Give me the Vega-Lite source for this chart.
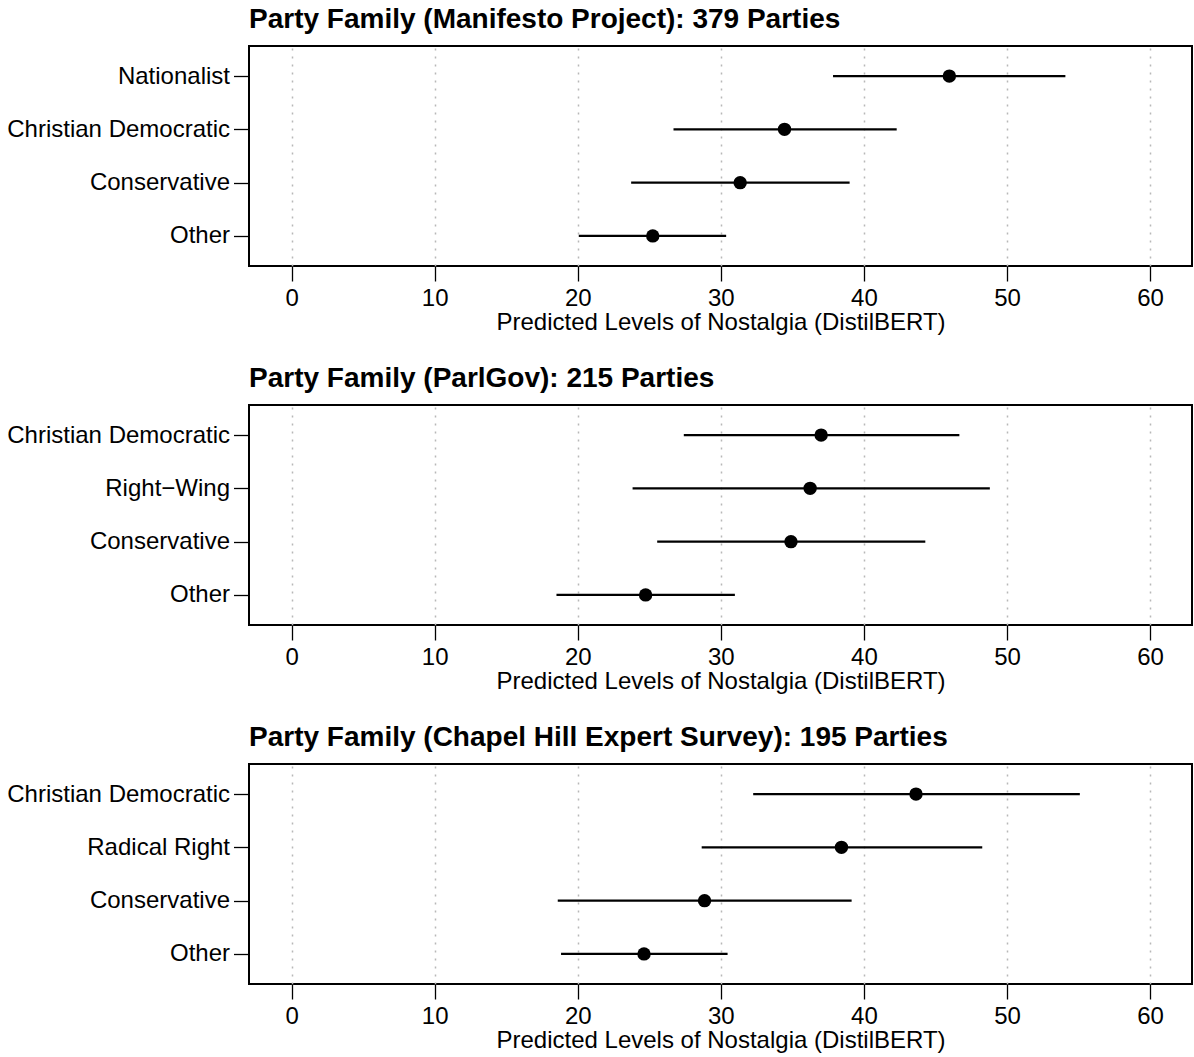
{
  "$schema": "https://vega.github.io/schema/vega-lite/v6.json",
  "padding": {"left": 5, "top": 5, "right": 0, "bottom": 0},
  "autosize": {"type": "pad"},
  "background": "white",
  "config": {
    "font": "Liberation Sans",
    "view": {"stroke": "black", "strokeWidth": 2},
    "title": {"anchor": "start", "frame": "group", "fontSize": 28, "fontWeight": "bold", "color": "black", "offset": 12},
    "axisX": {"labelFontSize": 24, "tickSize": 15, "tickWidth": 1.3, "tickColor": "black", "labelColor": "black", "labelPadding": 5, "titleFontSize": 24, "titleFontWeight": "normal", "titleColor": "black", "titlePadding": 0, "domain": false, "grid": true, "gridColor": "#b8b8b8", "gridDash": [2, 6], "gridWidth": 1.5},
    "axisY": {"labelFontSize": 24, "labelLimit": 400, "tickSize": 15.5, "tickWidth": 1.3, "tickColor": "black", "labelColor": "black", "labelPadding": 4, "domain": false, "grid": false, "title": null}
  },
  "datasets": {
    "d": [
      {"panel": "mp", "family": "Nationalist", "est": 45.97, "lo": 37.84, "hi": 54.08},
      {"panel": "mp", "family": "Christian Democratic", "est": 34.45, "lo": 26.69, "hi": 42.29},
      {"panel": "mp", "family": "Conservative", "est": 31.35, "lo": 23.73, "hi": 39.0},
      {"panel": "mp", "family": "Other", "est": 25.24, "lo": 20.07, "hi": 30.37},
      {"panel": "pg", "family": "Christian Democratic", "est": 37.01, "lo": 27.41, "hi": 46.67},
      {"panel": "pg", "family": "Right−Wing", "est": 36.24, "lo": 23.83, "hi": 48.8},
      {"panel": "pg", "family": "Conservative", "est": 34.9, "lo": 25.55, "hi": 44.29},
      {"panel": "pg", "family": "Other", "est": 24.74, "lo": 18.51, "hi": 30.98},
      {"panel": "ches", "family": "Christian Democratic", "est": 43.64, "lo": 32.26, "hi": 55.09},
      {"panel": "ches", "family": "Radical Right", "est": 38.43, "lo": 28.66, "hi": 48.27},
      {"panel": "ches", "family": "Conservative", "est": 28.86, "lo": 18.6, "hi": 39.14},
      {"panel": "ches", "family": "Other", "est": 24.63, "lo": 18.83, "hi": 30.47}
    ]
  },
  "spacing": 29,
  "vconcat": [
    {
      "title": "Party Family (Manifesto Project): 379 Parties",
      "width": 943, "height": 220,
      "data": {"name": "d"},
      "transform": [{"filter": "datum.panel == 'mp'"}],
      "encoding": {
        "y": {"field": "family", "type": "nominal", "sort": ["Nationalist", "Christian Democratic", "Conservative", "Other"], "scale": {"type": "point", "padding": 0.565}, "axis": {"title": null}}
      },
      "layer": [
        {"mark": {"type": "rule", "strokeWidth": 2.2, "color": "black"},
         "encoding": {"x": {"field": "lo", "type": "quantitative", "scale": {"domain": [-2.98, 62.93], "nice": false, "zero": false}, "axis": {"values": [0, 10, 20, 30, 40, 50, 60], "title": "Predicted Levels of Nostalgia (DistilBERT)"}}, "x2": {"field": "hi"}}},
        {"mark": {"type": "point", "filled": true, "size": 180, "color": "black", "opacity": 1},
         "encoding": {"x": {"field": "est", "type": "quantitative", "title": "Predicted Levels of Nostalgia (DistilBERT)"}}}
      ]
    },
    {
      "title": "Party Family (ParlGov): 215 Parties",
      "width": 943, "height": 220,
      "data": {"name": "d"},
      "transform": [{"filter": "datum.panel == 'pg'"}],
      "encoding": {
        "y": {"field": "family", "type": "nominal", "sort": ["Christian Democratic", "Right−Wing", "Conservative", "Other"], "scale": {"type": "point", "padding": 0.565}, "axis": {"title": null}}
      },
      "layer": [
        {"mark": {"type": "rule", "strokeWidth": 2.2, "color": "black"},
         "encoding": {"x": {"field": "lo", "type": "quantitative", "scale": {"domain": [-2.98, 62.93], "nice": false, "zero": false}, "axis": {"values": [0, 10, 20, 30, 40, 50, 60], "title": "Predicted Levels of Nostalgia (DistilBERT)"}}, "x2": {"field": "hi"}}},
        {"mark": {"type": "point", "filled": true, "size": 180, "color": "black", "opacity": 1},
         "encoding": {"x": {"field": "est", "type": "quantitative", "title": "Predicted Levels of Nostalgia (DistilBERT)"}}}
      ]
    },
    {
      "title": "Party Family (Chapel Hill Expert Survey): 195 Parties",
      "width": 943, "height": 220,
      "data": {"name": "d"},
      "transform": [{"filter": "datum.panel == 'ches'"}],
      "encoding": {
        "y": {"field": "family", "type": "nominal", "sort": ["Christian Democratic", "Radical Right", "Conservative", "Other"], "scale": {"type": "point", "padding": 0.565}, "axis": {"title": null}}
      },
      "layer": [
        {"mark": {"type": "rule", "strokeWidth": 2.2, "color": "black"},
         "encoding": {"x": {"field": "lo", "type": "quantitative", "scale": {"domain": [-2.98, 62.93], "nice": false, "zero": false}, "axis": {"values": [0, 10, 20, 30, 40, 50, 60], "title": "Predicted Levels of Nostalgia (DistilBERT)"}}, "x2": {"field": "hi"}}},
        {"mark": {"type": "point", "filled": true, "size": 180, "color": "black", "opacity": 1},
         "encoding": {"x": {"field": "est", "type": "quantitative", "title": "Predicted Levels of Nostalgia (DistilBERT)"}}}
      ]
    }
  ]
}
